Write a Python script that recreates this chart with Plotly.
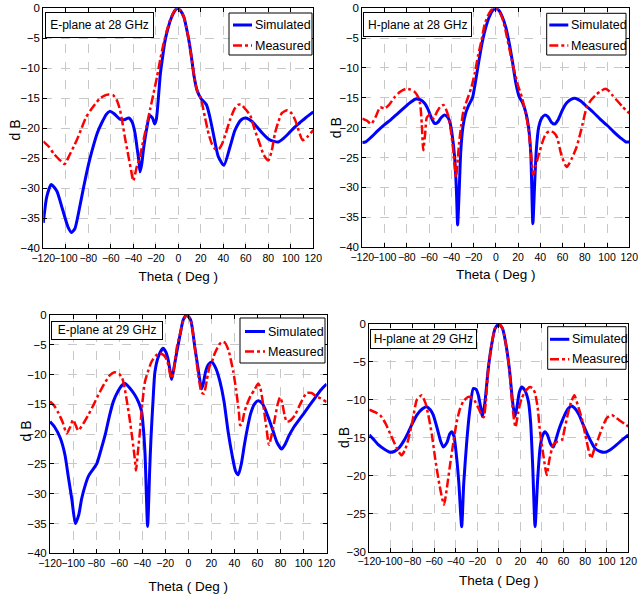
import plotly.graph_objects as go

# ---------------- data ----------------
# Panel 1: E-plane at 28 GHz
e28_sim_theta = [-120, -117, -113, -108, -103, -98, -95, -92, -88, -84, -80, -76, -72, -68, -64, -61, -57, -52, -48, -44, -41,
                 -38.5, -36.5, -35, -34, -32.5, -31, -28, -25.5, -23, -21, -19.5, -17.5, -16, -14, -12, -9, -6, -3, -1,
                 2, 5, 8, 10, 12, 14, 16.5, 20, 25, 28, 31, 35.5, 40.5, 46, 50.5, 56, 60, 65, 70, 75, 80, 85, 89, 93,
                 98, 103, 108, 113, 120]
e28_sim_db = [-35.8, -31.5, -29.4, -30.5, -33.5, -36.5, -37.4, -36.8, -33.5, -29.7, -26.2, -23.3, -20.8, -19.1, -17.7, -17.2,
              -17.6, -18.5, -18.6, -18.3, -19.0, -20.8, -23.5, -25.5, -27.3, -26.0, -23.6, -20.0, -17.9, -18.3, -19.3, -18.5,
              -14.5, -11.0, -8.2, -5.6, -3.2, -1.5, -0.4, 0.0, -0.4, -1.5, -4.0, -6.0, -8.6, -11.3, -13.6, -15.0, -16.1,
              -18.1, -20.8, -24.7, -26.2, -23.1, -20.3, -18.6, -18.3, -18.8, -19.8, -20.9, -21.8, -22.2, -22.3, -21.8,
              -20.9, -19.9, -19.1, -18.3, -17.3]
e28_meas_theta = [-120, -115, -111, -106, -101, -97, -93, -90, -86, -82, -78, -74, -70, -66, -62, -58, -55, -52, -50, -47.5,
                  -45, -42, -40, -37, -34, -31, -28, -25, -22, -19, -16, -13, -10, -7, -4, -1, 2, 5, 8, 10, 12, 14, 16.5,
                  20, 23.5, 27, 30, 33, 36, 39, 42, 46, 50, 53, 56, 60, 64, 68, 72, 76, 80, 83, 86, 89, 92, 97, 101, 104,
                  107, 110.5, 115, 120]
e28_meas_db = [-22.2, -23.1, -24.2, -25.2, -26.0, -24.6, -23.1, -21.9, -20.0, -18.2, -17.0, -16.0, -15.1, -14.6, -14.4,
               -14.5, -15.2, -16.8, -18.7, -21.5, -24.0, -27.0, -28.8, -26.5, -24.6, -22.0, -19.5, -16.8, -14.2, -11.5,
               -8.5, -5.8, -3.6, -1.8, -0.6, 0.0, -0.4, -1.5, -4.0, -6.0, -8.6, -11.3, -13.6, -15.0, -18.0, -21.0, -22.7,
               -23.5, -23.5, -22.6, -21.0, -18.6, -16.8, -16.1, -16.1, -16.9, -17.9, -20.3, -22.4, -24.5, -25.4, -23.8,
               -20.8, -18.9, -17.5, -17.0, -17.6, -18.7, -20.4, -22.0, -21.4, -20.3]

# Panel 2: H-plane at 28 GHz
h28_sim_theta = [-120, -117, -112, -106, -100, -94, -88, -82, -77, -72, -68, -64, -61, -58, -55, -52, -49, -46, -43, -41,
                 -39, -37, -35.5, -34.3, -33, -31.5, -29.5, -27, -24.5, -21, -18, -15, -12, -9, -6, -3, 0, 3, 6, 9, 12,
                 15, 18, 21, 24, 27, 29.5, 31.5, 33.3, 35, 36.5, 38.5, 41, 44, 47, 50, 53, 56, 60, 64, 68, 72, 76, 82,
                 88, 94, 100, 106, 112, 117, 120]
h28_sim_db = [-22.5, -22.4, -21.6, -20.5, -19.5, -18.6, -17.6, -16.6, -15.8, -15.2, -15.3, -15.9, -16.9, -18.3, -19.3,
              -19.1, -18.3, -17.9, -18.3, -19.3, -21.5, -25.0, -30.0, -36.3, -31.0, -24.0, -19.8, -17.5, -16.3, -15.0,
              -12.0, -8.6, -5.5, -3.2, -1.5, -0.4, 0.0, -0.4, -1.5, -3.2, -5.8, -9.0, -12.5, -14.8, -15.8, -17.5, -20.0,
              -24.5, -36.1, -29.0, -23.5, -20.0, -18.5, -17.9, -18.2, -19.1, -19.4, -18.7, -17.0, -15.8, -15.2, -15.1,
              -15.5, -16.5, -17.5, -18.6, -19.6, -20.7, -21.7, -22.4, -22.4]
h28_meas_theta = [-120, -116, -112, -108, -104, -100, -96, -91, -86, -81, -77, -73, -70, -68, -66.5, -65.2, -63.5, -62,
                  -59, -56, -53, -50, -47, -45, -42.5, -40, -38, -35.8, -33, -31, -29, -25.5, -22, -19, -16, -13, -10,
                  -7, -3.5, 0, 3, 6.5, 10, 13, 16, 20, 23.5, 26.5, 29, 31.5, 33.7, 36, 38.2, 42.7, 45.5, 48.5, 52, 55,
                  59, 63.7, 68, 72.7, 77, 81.7, 86, 90.7, 95, 98.5, 102, 105, 108.7, 114, 120]
h28_meas_db = [-18.5, -18.8, -19.4, -18.2, -16.6, -16.8, -16.2, -14.9, -14.0, -13.5, -13.6, -14.0, -14.8, -16.0, -19.5,
               -23.8, -21.0, -18.3, -17.8, -18.5, -17.4, -16.5, -16.2, -16.8, -18.2, -21.0, -24.3, -28.3, -22.6, -19.5,
               -17.1, -15.2, -13.3, -11.0, -8.0, -5.5, -2.7, -1.2, -0.2, 0.0, -0.5, -2.0, -4.8, -7.5, -10.0, -13.0,
               -14.9, -17.3, -19.8, -24.0, -27.9, -26.3, -24.8, -22.0, -20.9, -20.6, -20.8, -21.6, -24.6, -26.6, -25.3,
               -23.2, -20.2, -16.6, -15.3, -14.4, -13.8, -13.5, -13.9, -14.6, -15.4, -16.5, -17.6]

# Panel 3: E-plane at 29 GHz
e29_sim_theta = [-120, -116, -111, -107, -104, -101, -98, -95, -92.5, -89, -86.5, -83, -79.5, -76, -72, -68.5, -65, -61,
                 -57, -55, -51, -46.5, -43, -40.5, -39, -37.5, -35.3, -33.5, -32.4, -30.5, -29, -26, -22, -19.5, -17.5,
                 -15.5, -14.5, -13, -10, -7, -4.4, -1.5, 2, 5.8, 8.5, 11.5, 13, 15, 17.5, 20.3, 24, 27.5, 31, 34.5, 38,
                 41, 43.4, 46, 48.5, 50.7, 54, 57.5, 60.7, 64, 66.5, 70, 73.8, 77, 81, 84, 87.5, 91, 95, 100, 105.5,
                 110, 115, 120]
e29_sim_db = [-17.9, -18.8, -20.7, -23.5, -27.3, -31.0, -35.0, -33.5, -30.8, -28.3, -27.0, -26.0, -25.0, -22.8, -20.0,
              -17.0, -14.5, -12.8, -11.7, -11.5, -12.2, -13.4, -14.7, -16.2, -19.0, -23.5, -35.5, -26.0, -20.7, -14.0,
              -9.6, -7.0, -5.6, -6.2, -7.5, -9.8, -10.8, -9.5, -6.2, -3.2, -0.8, 0.0, -0.8, -5.6, -9.0, -12.4, -11.5,
              -9.5, -8.3, -7.9, -9.0, -11.2, -14.5, -19.5, -23.5, -26.2, -26.8, -25.0, -22.0, -19.6, -16.6, -14.9,
              -14.4, -14.8, -15.7, -17.5, -19.6, -21.4, -22.5, -21.7, -20.2, -19.0, -17.9, -16.6, -15.1, -13.9, -12.6,
              -11.6]
e29_meas_theta = [-120, -116.5, -112.8, -109, -105.5, -102.5, -100, -97.5, -95.5, -91, -86.8, -82, -78, -73, -68, -64,
                  -60, -57.5, -55.5, -53.5, -51, -48.6, -46.5, -45.4, -44, -42, -40, -37.6, -34.5, -31.8, -28, -24.6,
                  -21, -18.5, -16.5, -15, -13.5, -10.1, -7, -4, -1.5, 2, 5.8, 9, 11.5, 13.5, 16, 18.5, 20.3, 23, 27.5,
                  30, 32, 35, 39, 41.5, 44, 45, 46.5, 48.5, 50.7, 54, 57.5, 60.7, 62.5, 65, 67.5, 70, 72.5, 75.2, 77.5,
                  79.6, 81.5, 83.5, 85.4, 88, 92.6, 97, 102.7, 107, 111.4, 115, 120]
e29_meas_db = [-14.5, -15.2, -16.4, -18.0, -19.9, -18.8, -17.6, -18.6, -19.4, -18.2, -16.8, -15.0, -13.4, -11.6, -10.1,
               -9.6, -9.9, -10.5, -12.0, -14.2, -17.3, -20.7, -24.0, -26.1, -23.5, -19.6, -15.0, -11.2, -9.2, -7.8,
               -6.8, -6.4, -6.8, -7.6, -9.2, -10.6, -10.2, -5.6, -3.0, -0.8, 0.0, -0.8, -5.6, -10.5, -13.0, -13.2,
               -11.0, -8.6, -8.0, -6.4, -4.8, -4.5, -4.7, -6.0, -9.5, -12.6, -16.5, -18.5, -18.3, -16.4, -15.1, -13.6,
               -12.5, -11.5, -12.2, -15.1, -18.5, -21.8, -20.0, -17.3, -15.0, -13.8, -14.8, -16.8, -17.9, -17.8, -16.8,
               -15.0, -13.1, -13.1, -13.7, -14.0, -14.6]

# Panel 4: H-plane at 29 GHz
h29_sim_theta = [-120, -116, -111.7, -106, -100.8, -97, -93, -88, -84, -80.7, -76, -71, -67, -63.5, -60.7, -57, -54,
                 -51.4, -48, -45.5, -43.6, -41.5, -39, -37, -34.4, -32.5, -29.7, -27, -23.6, -21, -18.9, -16.5, -15.2,
                 -13, -9.7, -6.5, -3.5, 0, 3.5, 6.5, 9.7, 13, 15, 17, 19, 21.2, 24, 27.4, 29.5, 31.5, 33.6, 36, 38.2,
                 40.5, 42.8, 45, 48, 50.5, 53, 55.5, 58.3, 61, 64, 67.6, 71, 74.5, 78.3, 82, 85.5, 89.2, 94, 98.4, 103,
                 109.3, 114, 120]
h29_sim_db = [-14.6, -15.2, -15.9, -16.5, -16.9, -16.8, -16.4, -15.4, -14.3, -13.3, -12.0, -11.2, -10.9, -11.3, -12.0,
              -13.8, -15.4, -16.2, -15.6, -14.5, -14.2, -14.8, -17.7, -21.0, -26.7, -21.0, -15.5, -11.5, -8.5, -8.6,
              -9.4, -11.2, -12.2, -10.5, -5.8, -2.6, -0.6, 0.0, -0.6, -2.6, -5.8, -10.5, -12.2, -10.8, -9.0, -8.3,
              -8.7, -10.2, -13.0, -19.0, -26.7, -20.5, -16.4, -14.7, -14.2, -14.6, -15.8, -16.2, -15.2, -14.0, -12.9,
              -12.0, -11.2, -10.8, -11.2, -12.0, -13.3, -14.5, -15.5, -16.4, -16.8, -16.9, -16.6, -15.9, -15.3, -14.6]
h29_meas_theta = [-120, -115, -110, -105, -100.8, -97, -93, -90, -87, -84, -80, -76, -73.5, -71.4, -68, -65.3, -62, -59,
                  -55, -50.8, -48, -45.2, -42, -39, -36, -32.9, -28.2, -24, -22, -18.5, -15.8, -14, -12, -9.7, -6.5,
                  -3.5, 0, 3.5, 6.5, 9.7, 12, 14, 15.5, 18, 21.2, 25, 28.9, 31.5, 33.6, 36, 38.2, 41.5, 44.4, 47, 50.5,
                  54, 58.3, 61, 64.4, 67, 70, 73, 76.8, 80, 83, 85.5, 88.5, 92.2, 96, 100, 104.6, 109, 114, 120]
h29_meas_db = [-11.3, -11.6, -12.0, -13.1, -14.4, -15.6, -16.8, -17.3, -16.6, -15.3, -12.8, -10.0, -9.6, -9.4, -10.4,
               -12.0, -14.6, -17.7, -21.2, -23.8, -21.5, -18.6, -15.5, -12.9, -11.2, -10.2, -9.6, -9.8, -10.2, -11.2,
               -12.0, -12.3, -10.2, -5.8, -2.6, -0.6, 0.0, -0.6, -2.6, -5.8, -9.8, -12.5, -13.6, -11.6, -9.8, -8.8,
               -8.3, -8.5, -9.1, -11.0, -14.2, -17.5, -19.9, -17.8, -15.9, -15.5, -15.3, -13.8, -11.6, -10.3, -9.4,
               -10.6, -12.4, -14.5, -16.5, -17.7, -16.5, -15.1, -13.6, -12.4, -12.0, -12.4, -12.9, -13.5]

panel_titles = ["E-plane at 28 GHz", "H-plane at 28 GHz", "E-plane at 29 GHz", "H-plane at 29 GHz"]
series_names = ["Simulated", "Measured"]
x_title = "Theta ( Deg )"
y_title = "d B"
x_ticks = [-120, -100, -80, -60, -40, -20, 0, 20, 40, 60, 80, 100, 120]
y_ranges = [[-40, 0], [-40, 0], [-40, 0], [-30, 0]]

panels = [
    (e28_sim_theta, e28_sim_db, e28_meas_theta, e28_meas_db),
    (h28_sim_theta, h28_sim_db, h28_meas_theta, h28_meas_db),
    (e29_sim_theta, e29_sim_db, e29_meas_theta, e29_meas_db),
    (h29_sim_theta, h29_sim_db, h29_meas_theta, h29_meas_db),
]

# ---------------- layout geometry (pixels) ----------------
W, H = 639, 602
plot_px = [  # x0, x1, y_top, y_bottom
    (43.3, 313.3, 8.3, 248.0),
    (362.3, 629.3, 8.3, 247.0),
    (50.0, 326.6, 315.0, 553.3),
    (369.3, 628.3, 324.0, 551.7),
]
x_title_standoff = [8, 7, 13, 8.5]
y_title_px = [(14.5, 130), (335.7, 127.5), (25.5, 431), (344, 438)]
title_box_px = [  # x0, x1, y0, y1
    (45, 154, 12.3, 38.3),
    (363.3, 472.7, 12.3, 37.3),
    (51, 163.3, 320.7, 339.3),
    (370, 476.7, 329.3, 349.3),
]
legend_box_px = [  # x0, x1, y0, y1, sample_x0, sample_x1, y_sim, y_meas
    (229, 312, 13, 55, 233, 252, 25, 45.5),
    (546.7, 626, 13.3, 55, 549.3, 568.3, 25, 45.5),
    (240, 325, 318, 363, 245, 265, 331.5, 351.5),
    (547.7, 626, 326.7, 369.3, 550, 569.3, 339.3, 359.3),
]


def fx(px):
    return px / W


def fy(py):
    return 1 - py / H


FONT = "Liberation Sans, Arial, Helvetica, sans-serif"
BLUE = "#0000ff"
RED = "#ff0000"

fig = go.Figure()
layout = dict(
    width=W, height=H, margin=dict(l=0, r=0, t=0, b=0, autoexpand=False),
    paper_bgcolor="white", plot_bgcolor="white", showlegend=False,
    font=dict(family=FONT, size=12, color="black"),
)
shapes = []
annotations = []

for i, (st, sv, mt, mv) in enumerate(panels):
    n = "" if i == 0 else str(i + 1)
    xa, ya = "x" + n, "y" + n
    fig.add_trace(go.Scatter(x=st, y=sv, mode="lines", name=series_names[0], xaxis=xa, yaxis=ya,
                             line=dict(color=BLUE, width=3, shape="spline", smoothing=0.6)))
    fig.add_trace(go.Scatter(x=mt, y=mv, mode="lines", name=series_names[1], xaxis=xa, yaxis=ya,
                             line=dict(color=RED, width=2.5, dash="dashdot", shape="spline", smoothing=0.6)))
    x0, x1, yt, yb = plot_px[i]
    common = dict(showline=True, linecolor="black", linewidth=1, mirror="ticks", ticks="inside", ticklen=4,
                  tickcolor="black", showgrid=True, gridcolor="#c8c8c8", griddash="dash", gridwidth=1,
                  zeroline=False, automargin=False)
    layout["xaxis" + n] = dict(common, domain=[fx(x0), fx(x1)], range=[-120, 120], tickvals=x_ticks,
                               tickangle=0, anchor=ya, tickfont=dict(family=FONT, size=10.5),
                               title=dict(text=x_title, font=dict(family=FONT, size=13.5),
                                          standoff=x_title_standoff[i]))
    layout["yaxis" + n] = dict(common, domain=[fy(yb), fy(yt)], range=y_ranges[i], dtick=5, anchor=xa,
                               tickfont=dict(family=FONT, size=11.5))

    # y-axis title
    tx, ty = y_title_px[i]
    annotations.append(dict(xref="paper", yref="paper", x=fx(tx), y=fy(ty), xanchor="center", yanchor="middle",
                            text=y_title, textangle=-90, showarrow=False, font=dict(family=FONT, size=14)))

    # panel title box
    bx0, bx1, by0, by1 = title_box_px[i]
    annotations.append(dict(xref="paper", yref="paper", x=fx(bx0), y=fy(by0), xanchor="left", yanchor="top",
                            text=panel_titles[i], showarrow=False, width=bx1 - bx0 - 2, height=by1 - by0 - 2,
                            align="center", valign="middle", bordercolor="black", borderwidth=1, borderpad=0,
                            bgcolor="white", font=dict(family=FONT, size=12)))

    # legend box
    lx0, lx1, ly0, ly1, sx0, sx1, ys, ym = legend_box_px[i]
    shapes.append(dict(type="rect", xref="paper", yref="paper", x0=fx(lx0), x1=fx(lx1), y0=fy(ly1), y1=fy(ly0),
                       line=dict(color="black", width=1), fillcolor="white", layer="above"))
    shapes.append(dict(type="line", xref="paper", yref="paper", x0=fx(sx0), x1=fx(sx1), y0=fy(ys), y1=fy(ys),
                       line=dict(color=BLUE, width=3), layer="above"))
    shapes.append(dict(type="line", xref="paper", yref="paper", x0=fx(sx0), x1=fx(sx1), y0=fy(ym), y1=fy(ym),
                       line=dict(color=RED, width=2.5, dash="dashdot"), layer="above"))
    for name, yy in zip(series_names, (ys, ym)):
        annotations.append(dict(xref="paper", yref="paper", x=fx(sx1 + 0.5), y=fy(yy), xanchor="left",
                                yanchor="middle", text=name, showarrow=False,
                                font=dict(family=FONT, size=12.5)))

layout["shapes"] = shapes
layout["annotations"] = annotations
fig.update_layout(**layout)
fig.write_html("out.html", config={"displayModeBar": False},
               post_script="document.body.style.margin='0';")
